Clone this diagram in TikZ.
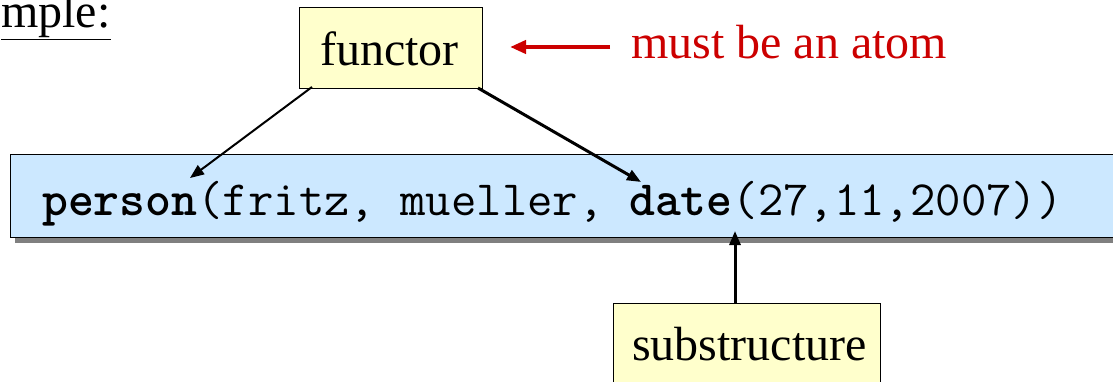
\documentclass[tikz,border=0pt]{standalone}
\usepackage{fontspec}
\setmainfont{Liberation Serif}
\usetikzlibrary{arrows.meta,calc}
\definecolor{boxyellow}{HTML}{FFFFCC}
\definecolor{boxblue}{HTML}{CCE8FF}
\definecolor{darkred}{HTML}{CC0000}
\definecolor{shadowgray}{HTML}{808080}
\tikzset{
  yellowbox/.style={draw=black, line width=1pt, fill=boxyellow, inner sep=0pt},
  lbl/.style={font=\fontsize{48}{50}\selectfont, inner sep=0pt},
  conn/.style={-{Triangle[length=14pt,width=11pt]}, line width=2pt},
}
\begin{document}
\begin{tikzpicture}[x=1pt,y=-1pt]
\useasboundingbox (0,0) rectangle (1113,382);
\clip (0,0) rectangle (1113,382);
% Example label (cut off)
\node[lbl, anchor=base west] (exmpl) at (1,28) {\underline{mple:}};
% functor box
\node[yellowbox, minimum width=183pt, minimum height=81pt, anchor=north west] (functor) at (299,7) {};
\node[lbl, anchor=base west] (functortxt) at (320,66) {functor};
% red arrow and label
\node[lbl, anchor=base west, text=darkred] (atom) at (631,59) {must be an atom};
\coordinate (redtip) at (510,47);
\draw[-{Triangle[length=16pt,width=13pt]}, line width=4pt, darkred] (atom.west |- redtip) ++(-21,0) coordinate (redstart) -- (redtip);
% blue term box with shadow
\fill[shadowgray] (15,160) rectangle (1125,243);
\node[draw=black, line width=1pt, fill=boxblue, minimum width=1110pt, minimum height=83pt, anchor=north west, inner sep=0pt] (termbox) at (10,154) {};
\node[anchor=base west, inner sep=0pt, font=\fontsize{49.3}{50}\ttfamily] (term) at (42,215) {\textbf{person}(fritz, mueller, \textbf{date}(27,11,2007))};
% connectors
\coordinate (lstart) at (312,87);
\coordinate (ltip) at (190,178);
\coordinate (rstart) at (478,88);
\coordinate (rtip) at (641,182);
\draw[conn] (lstart) -- (ltip);
\draw[conn, line width=3pt] (rstart) -- (rtip);
% substructure box
\node[yellowbox, minimum width=267pt, minimum height=90pt, anchor=north west] (substr) at (613,303) {};
\node[lbl, anchor=base west] (substrtxt) at (632,360) {substructure};
\coordinate (btip) at (735,231);
\draw[conn, line width=3pt] (substr.north -| btip) -- (btip);
\end{tikzpicture}
\end{document}
